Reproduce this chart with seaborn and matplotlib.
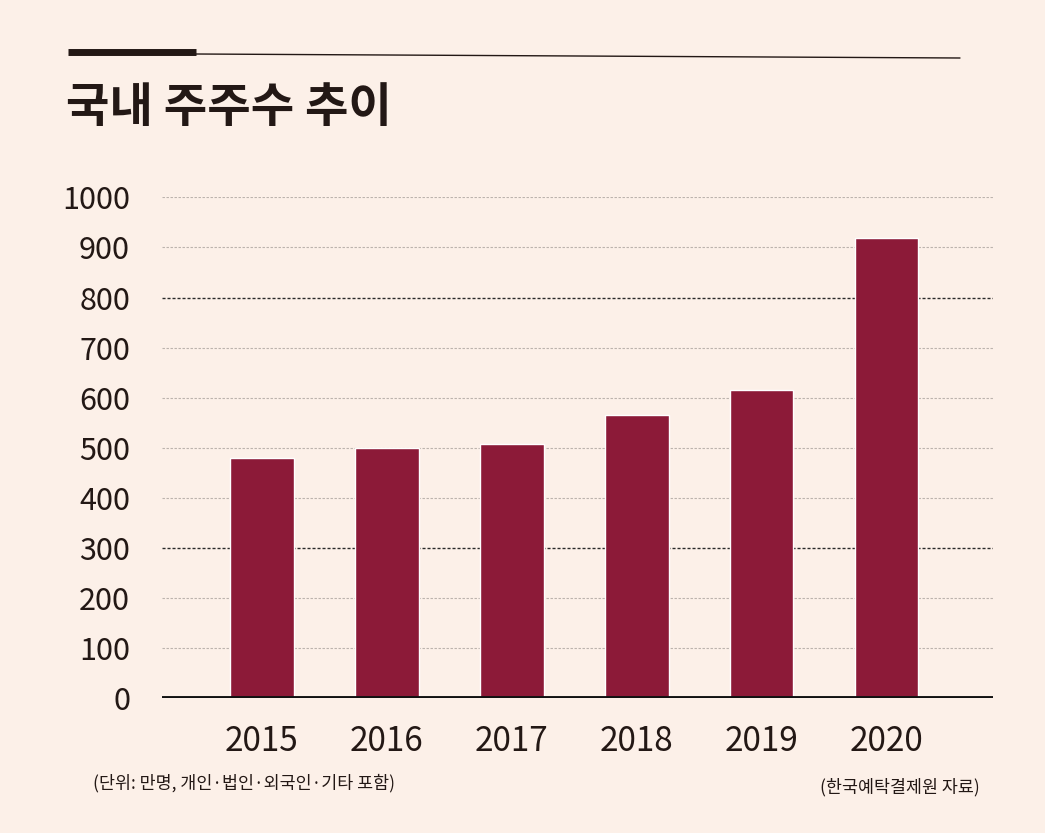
import matplotlib
matplotlib.use("Agg")
import matplotlib.pyplot as plt
from matplotlib.lines import Line2D
import seaborn as sns
import pandas as pd

years = ["2015", "2016", "2017", "2018", "2019", "2020"]
shareholders = [480, 500, 508, 565, 616, 918]
y_ticks = [0, 100, 200, 300, 400, 500, 600, 700, 800, 900, 1000]
dark_grid = [800, 300]

title = "국내 주주수 추이"
note_left = "(단위: 만명, 개인·법인·외국인·기타 포함)"
note_right = "(한국예탁결제원 자료)"

BG = "#FCF0E8"
BAR = "#8C1A38"
INK = "#231815"

sns.set_theme(style="white")
plt.rcParams["font.family"] = ["Noto Sans CJK KR", "DejaVu Sans"]

df = pd.DataFrame({"year": years, "value": shareholders})

fig = plt.figure(figsize=(10.45, 8.33), dpi=100, facecolor=BG)
ax = fig.add_axes([0.155, 0.162, 0.795, 0.601])
ax.set_facecolor(BG)

# grid lines
for t in y_ticks[1:]:
    if t in dark_grid:
        ax.axhline(t, color="#2a2a2a", lw=1.0, ls=(0, (2.2, 1.4)), zorder=0.5)
    else:
        ax.axhline(t, color="#bcb3ad", lw=0.8, ls=(0, (2.2, 1.4)), zorder=0.5)

sns.barplot(data=df, x="year", y="value", color=BAR, saturation=1,
            width=0.51, ax=ax, zorder=2)

ax.axhline(0, color="#111111", lw=2.8, zorder=3)

ax.set_xlim(-0.8, 5.85)
ax.set_ylim(0, 1000)
ax.set_yticks(y_ticks)
ax.set_yticklabels([str(t) for t in y_ticks], fontsize=22, color=INK,
                   fontweight="light")
ax.set_xticks(range(len(years)))
ax.set_xticklabels(years, fontsize=24, color=INK)
ax.tick_params(axis="y", length=0, pad=23)
ax.tick_params(axis="x", length=0, pad=19)
ax.set_xlabel("")
ax.set_ylabel("")
for s in ax.spines.values():
    s.set_visible(False)

# decorative header lines
W, H = 1045, 833
fig.add_artist(Line2D([68 / W, 196 / W], [1 - 52 / H, 1 - 52 / H],
                      color="#231815", lw=5, solid_capstyle="butt"))
fig.add_artist(Line2D([196 / W, 960 / W], [1 - 54 / H, 1 - 58 / H],
                      color="#231815", lw=1.0))

fig.text(66 / W, 1 - 108 / H, title, fontsize=34, fontweight="bold",
         color=INK, ha="left", va="center")

fig.text(93 / W, 1 - 783 / H, note_left, fontsize=12.5, color=INK,
         ha="left", va="center")
fig.text(980 / W, 1 - 787 / H, note_right, fontsize=12.5, color=INK,
         ha="right", va="center")

fig.savefig("out.png", dpi=100, facecolor=BG)
